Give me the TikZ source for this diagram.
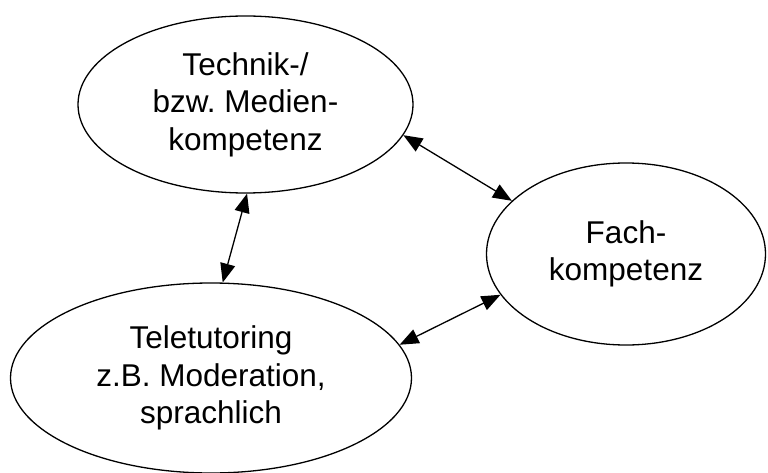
\documentclass[tikz,border=0pt]{standalone}
\usepackage{fontspec}
\setmainfont{Liberation Sans}
\usetikzlibrary{shapes.geometric,arrows.meta}
\frenchspacing
\begin{document}
\begin{tikzpicture}[x=1pt,y=-1pt,
  oval/.style={draw=black,line width=1.3pt,ellipse,inner sep=0pt,align=center,
    font=\fontsize{31.5}{37.5}\selectfont},
  tip/.tip={Triangle[length=19pt,width=15pt]},
  link/.style={line width=1.3pt,tip-tip}]
\useasboundingbox (0,0) rectangle (768,473);
\node[oval,minimum width=335pt,minimum height=177pt] (tech) at (245.5,104.5) {Technik-/\\bzw. Medien-\\kompetenz};
\node[oval,minimum width=279pt,minimum height=182pt] (fach) at (626,254) {\raisebox{-8pt}{\parbox{160pt}{\centering Fach-\\kompetenz}}};
\node[oval,minimum width=401pt,minimum height=190pt] (tele) at (211,378) {Teletutoring\\z.B. Moderation,\\sprachlich};
\draw[link] (tech.-11) -- (fach.155);
\draw[link] (tech.-89) -- (tele.83.4);
\draw[link] (tele.10.2) -- (fach.-162.2);
\end{tikzpicture}
\end{document}
